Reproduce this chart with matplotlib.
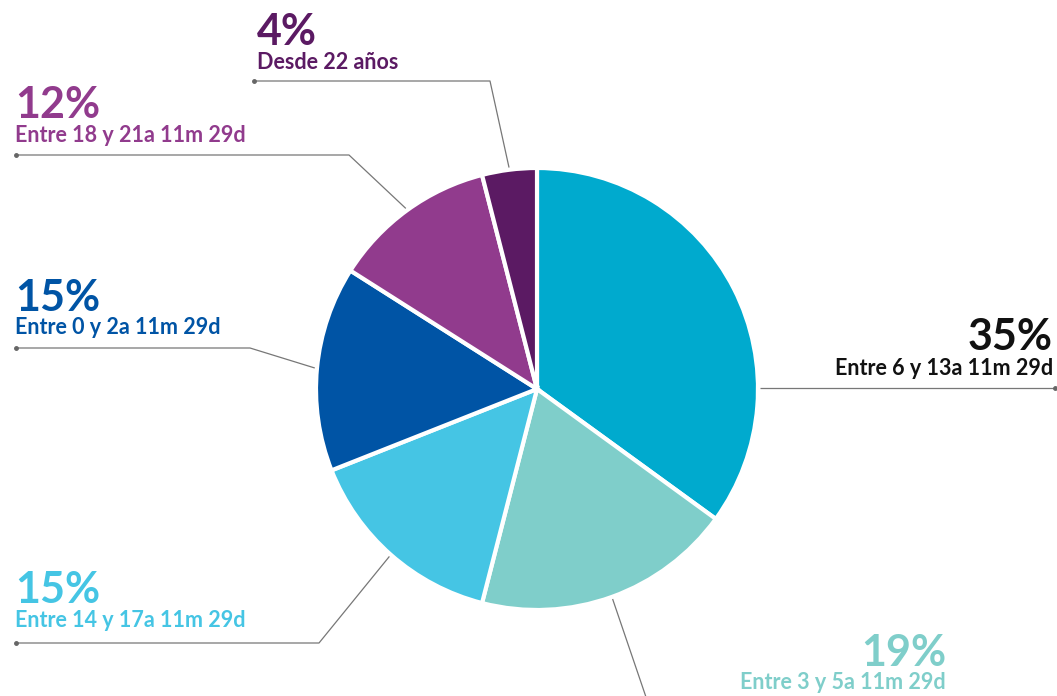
import numpy as np
import matplotlib
matplotlib.use("Agg")
import matplotlib.pyplot as plt

# --- DATA ---
shares = [35, 19, 15, 15, 12, 4]
pct_labels = ["35%", "19%", "15%", "15%", "12%", "4%"]
groups = [
    "Entre 6 y 13a 11m 29d",
    "Entre 3 y 5a 11m 29d",
    "Entre 14 y 17a 11m 29d",
    "Entre 0 y 2a 11m 29d",
    "Entre 18 y 21a 11m 29d",
    "Desde 22 años",
]
colors = ["#00AACE", "#7FCECA", "#45C5E4", "#0054A5", "#913B8D", "#5B1A63"]
text_colors = ["#111111", "#7FCECA", "#45C5E4", "#0054A5", "#913B8D", "#5B1A63"]

plt.rcParams['font.family'] = ['Lato', 'DejaVu Sans']

W, H = 1057, 696
fig = plt.figure(figsize=(W / 100, H / 100), dpi=100)
ax = fig.add_axes([0, 0, 1, 1])
ax.set_xlim(0, W)
ax.set_ylim(0, H)
ax.set_aspect('equal')
ax.axis('off')

cx, cy, r = 537, H - 389, 221
ax.pie(shares, colors=colors, startangle=90, counterclock=False,
       center=(cx, cy), radius=r,
       wedgeprops=dict(edgecolor='white', linewidth=3))
ax.set_xlim(0, W)
ax.set_ylim(0, H)

# mid angle of each wedge (clockwise from top)
cum = np.cumsum([0] + shares)
mids = [(cum[i] + cum[i + 1]) / 2 / 100 * 360 for i in range(len(shares))]

def edge_point(deg, k=1.0):
    a = np.radians(deg)
    return cx + k * r * np.sin(a), cy + k * r * np.cos(a)

# label layout: text x, pct baseline, sub baseline, alignment, leader path
layout = {
    0: dict(x=1053, py=350, sy=375, ha='right', path=[(1055, 388), (760, 388)], inner=False),
    1: dict(x=946, py=666, sy=689, ha='right', path=[(647, 700)], inner=True),
    2: dict(x=15, py=603, sy=627, ha='left', path=[(16, 643), (319, 643)], inner=True),
    3: dict(x=15, py=311, sy=334, ha='left', path=[(16, 348), (250, 348)], inner=True),
    4: dict(x=15, py=118, sy=142, ha='left', path=[(16, 155), (349, 155)], inner=True),
    5: dict(x=257, py=45, sy=69, ha='left', path=[(254, 81), (490, 81)], inner=True),
}

for i, lay in layout.items():
    ax.text(lay['x'], H - lay['py'], pct_labels[i], ha=lay['ha'], va='baseline',
            fontsize=31, fontweight='bold', color=text_colors[i])
    ax.text(lay['x'], H - lay['sy'], groups[i], ha=lay['ha'], va='baseline',
            fontsize=15.5, fontweight='bold', color=text_colors[i])
    pts = [(px, H - py) for px, py in lay['path']]
    if lay['inner']:
        pts.append(edge_point(mids[i], 1.01))
    xs, ys = zip(*pts)
    ax.plot(xs, ys, color='#777777', linewidth=0.9, solid_capstyle='butt', clip_on=False)
    if i != 1:
        ax.plot(xs[0], ys[0], 'o', color='#666666', markersize=2.5)

fig.savefig("out.png", dpi=100, facecolor='white')
